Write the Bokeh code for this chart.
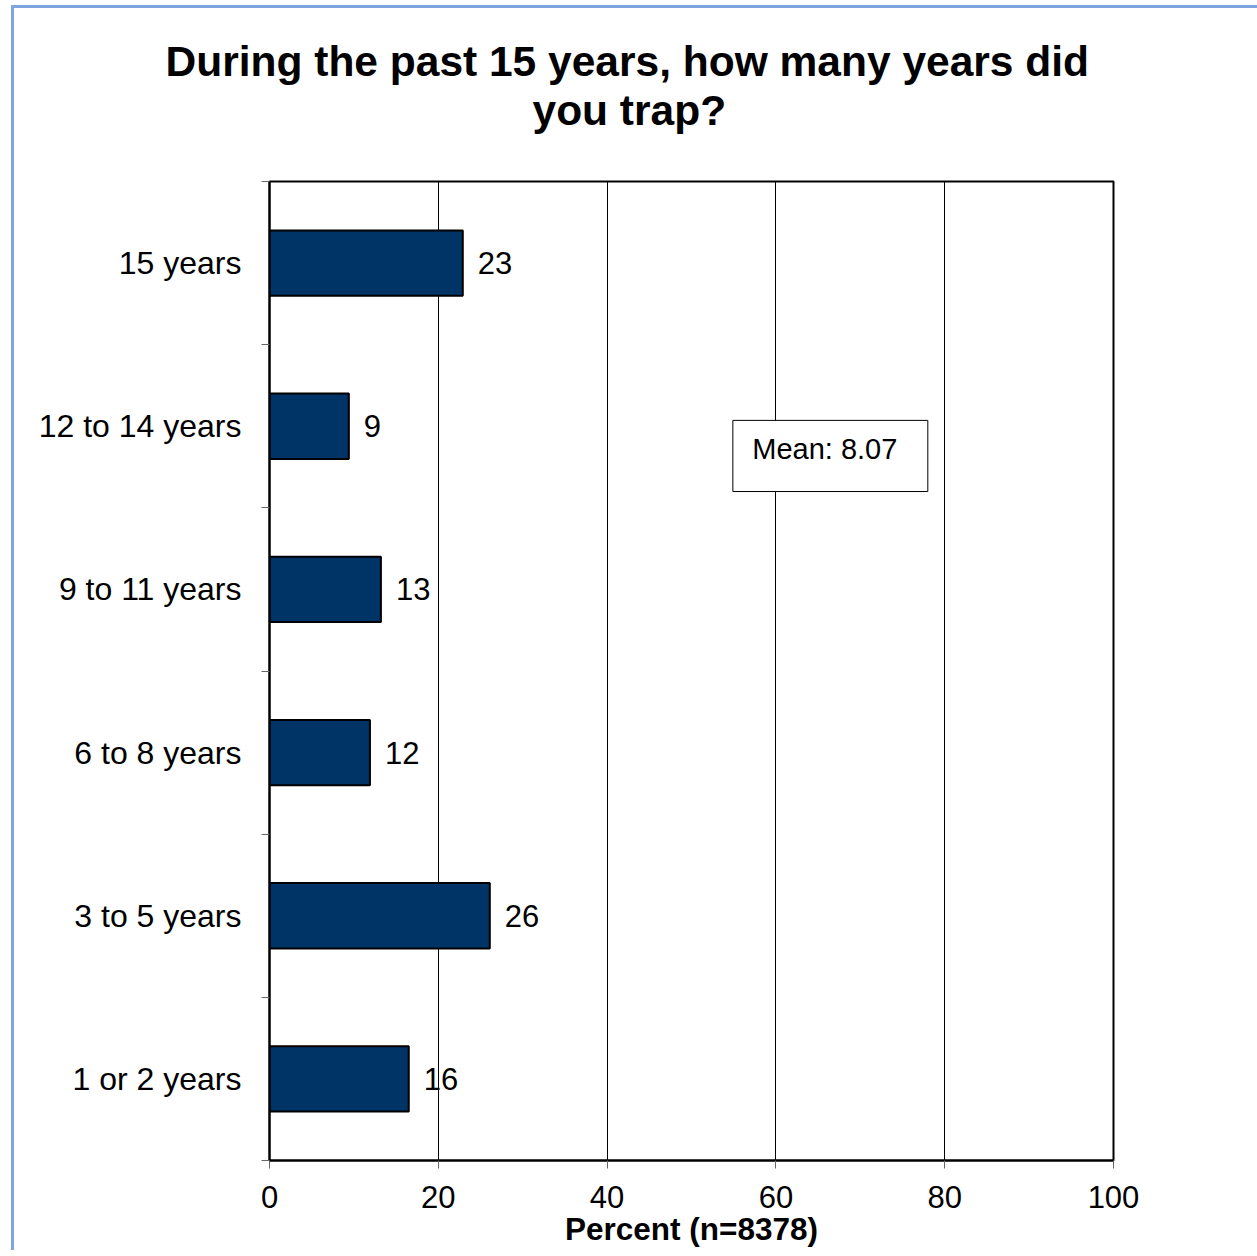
from bokeh.plotting import figure
from bokeh.models import (Range1d, FixedTicker, Label, Title, ColumnDataSource,
                          InlineStyleSheet)
from bokeh.embed import file_html
from bokeh.resources import INLINE

# Survey responses, listed bottom to top
categories = ["1 or 2 years", "3 to 5 years", "6 to 8 years",
              "9 to 11 years", "12 to 14 years", "15 years"]
percents = [16.5, 26.1, 11.9, 13.2, 9.4, 22.9]
x_ticks = [0, 20, 40, 60, 80, 100]
mean_text = "Mean: 8.07"
n_total = 8378
title_lines = ["During the past 15 years, how many years did", "you trap?"]

FONT = "Liberation Sans"
NAVY = "#003366"
FRAME_BLUE = "#7DA5DF"

ypos = [i + 0.5 for i in range(len(categories))]
src = ColumnDataSource(dict(
    y=ypos, v=percents,
    lbl=["%.0f" % v for v in percents],
))

p = figure(frame_width=844, frame_height=979, output_backend="svg",
           toolbar_location=None,
           x_range=Range1d(0, 100), y_range=Range1d(0, len(categories)),
           min_border_left=269, min_border_right=144,
           min_border_top=181, min_border_bottom=90)
p.background_fill_color = "white"
p.border_fill_color = None
p.outline_line_color = "black"
p.outline_line_width = 2

# page frame drawn behind the transparent canvas
p.stylesheets = [InlineStyleSheet(css=(
    ":host { background:"
    " linear-gradient(%s,%s) 11px 5px / 3px 100%% no-repeat,"
    " linear-gradient(%s,%s) 11px 5px / 100%% 3px no-repeat,"
    " white; }" % ((FRAME_BLUE,) * 4)))]

# vertical gridlines only
p.ygrid.grid_line_color = None
p.xgrid.grid_line_color = "black"
p.xgrid.grid_line_width = 1
p.xgrid.ticker = FixedTicker(ticks=x_ticks)

# x axis
xa = p.xaxis[0]
xa.ticker = FixedTicker(ticks=x_ticks)
xa.axis_line_color = "black"
xa.axis_line_width = 2
xa.major_tick_line_color = "#666666"
xa.major_tick_out = 8
xa.major_tick_in = 0
xa.minor_tick_line_color = None
xa.major_label_text_font = FONT
xa.major_label_text_font_size = "31px"
xa.major_label_text_color = "black"
xa.major_label_standoff = 17
xa.axis_label = "Percent (n=%d)" % n_total
xa.axis_label_text_font = FONT
xa.axis_label_text_font_size = "31.5px"
xa.axis_label_text_font_style = "bold"
xa.axis_label_text_color = "black"
xa.axis_label_standoff = 0

# y axis: labels at band centres, ticks at band edges
ya = p.yaxis[0]
ya.ticker = FixedTicker(ticks=ypos, minor_ticks=list(range(len(categories) + 1)))
ya.major_label_overrides = {y: c for y, c in zip(ypos, categories)}
ya.axis_line_color = "black"
ya.axis_line_width = 2
ya.major_tick_line_color = None
ya.minor_tick_line_color = "#666666"
ya.minor_tick_out = 8
ya.minor_tick_in = 0
ya.major_label_text_font = FONT
ya.major_label_text_font_size = "32px"
ya.major_label_text_color = "black"
ya.major_label_standoff = 20

# bars and value labels
p.hbar(y="y", right="v", left=0, height=0.4, source=src,
       fill_color=NAVY, line_color="black", line_width=2)
p.text(x="v", y="y", text="lbl", source=src, x_offset=15,
       text_font={"value": FONT}, text_font_size="31px",
       text_align="left", text_baseline="middle", text_color="black")

# mean box
p.quad(left=[54.9], right=[78.0], top=[4.536], bottom=[4.10],
       fill_color="white", line_color="black", line_width=1)
p.add_layout(Label(x=57.2, y=4.36, text=mean_text, text_font=FONT,
                   text_font_size="29px", text_baseline="middle",
                   text_color="black"))

# gap between the title and the frame
p.add_layout(Title(text=" ", text_font_size="41px", standoff=0), "above")
# two-line title; the line added last sits on top
for line, off in [(title_lines[1], 263), (title_lines[0], -104)]:
    p.add_layout(Title(text=line, align="left", offset=off,
                       text_font=FONT, text_font_size="42.5px",
                       text_font_style="bold", text_color="black",
                       standoff=0), "above")

open("out.html", "w").write(file_html(p, INLINE))
